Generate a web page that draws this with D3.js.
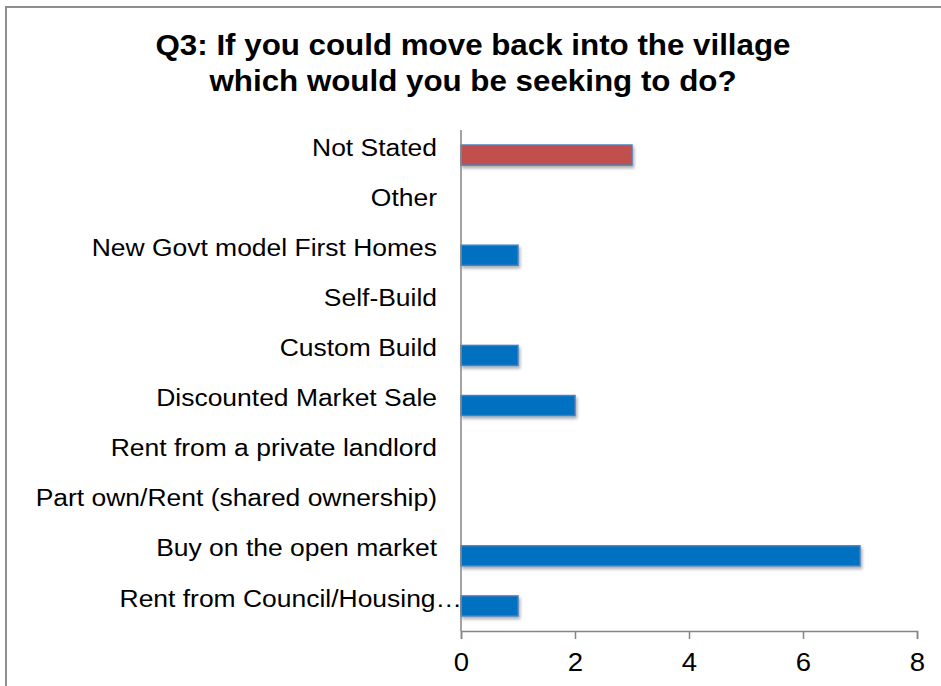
<!DOCTYPE html>
<html>
<head>
<meta charset="utf-8">
<script src="https://cdn.jsdelivr.net/npm/d3@7"></script>
<style>
  html, body { margin: 0; padding: 0; background: #ffffff; }
  svg { display: block; }
  text { font-family: "Liberation Sans", Arial, sans-serif; fill: #000; }
</style>
</head>
<body>
<svg id="chart" width="941" height="686"></svg>
<script>
// Survey answers, listed top to bottom as they appear on the chart
const categories = [
  "Not Stated",
  "Other",
  "New Govt model First Homes",
  "Self-Build",
  "Custom Build",
  "Discounted Market Sale",
  "Rent from a private landlord",
  "Part own/Rent (shared ownership)",
  "Buy on the open market",
  "Rent from Council/Housing…"
];
// Number of respondents choosing each option
const responses = [3, 0, 1, 0, 1, 2, 0, 0, 7, 1];
// Horizontal axis tick values
const xTicks = [0, 2, 4, 6, 8];
const titleLines = [
  "Q3: If you could move back into the village",
  "which would you be seeking to do?"
];

const W = 941, H = 686;
const plot = { left: 461, right: 917, top: 130, bottom: 631 };
const stretch = 1.08;   // horizontal text stretch
const blue = "#0070C0", red = "#C0504D", edge = "#4A7EBB", axisGrey = "#868686";

const svg = d3.select("#chart");

// soft drop shadow for the bars
const defs = svg.append("defs");
const f = defs.append("filter").attr("id", "barShadow")
  .attr("x", "-5%").attr("y", "-30%").attr("width", "115%").attr("height", "180%");
f.append("feDropShadow").attr("dx", 1.5).attr("dy", 2.5)
  .attr("stdDeviation", 1.6).attr("flood-color", "#000").attr("flood-opacity", 0.32);

// outer frame
svg.append("rect")
  .attr("x", 6).attr("y", 7).attr("width", W + 20).attr("height", H + 20)
  .attr("fill", "none").attr("stroke", "#8e8e8e").attr("stroke-width", 2);

// title
const title = svg.append("g");
titleLines.forEach((t, i) => {
  title.append("text")
    .attr("transform", `translate(473,${55 + i * 36}) scale(${stretch},1)`)
    .attr("text-anchor", "middle")
    .attr("font-size", 29)
    .attr("font-weight", "bold")
    .text(t);
});

const data = categories.map((c, i) => ({ cat: c, value: responses[i] }));

const x = d3.scaleLinear().domain([0, 8]).range([plot.left, plot.right]);
const y = d3.scaleBand().domain(categories)
  .range([plot.top, plot.bottom]).paddingInner(0.6).paddingOuter(0.3);

// bars (options nobody picked draw nothing)
svg.append("g").selectAll("rect")
  .data(data.filter(d => d.value > 0))
  .join("rect")
  .attr("x", x(0))
  .attr("y", d => y(d.cat))
  .attr("width", d => x(d.value) - x(0))
  .attr("height", y.bandwidth())
  .attr("fill", d => d.cat === "Not Stated" ? red : blue)
  .attr("stroke", edge)
  .attr("stroke-width", 1.5)
  .attr("filter", "url(#barShadow)");

// category labels, sitting a little above each bar's centre line
svg.append("g").selectAll("text")
  .data(categories)
  .join("text")
  .attr("transform", d => {
    const endX = d.endsWith("…") ? plot.left + 1 : plot.left - 24;
    const cy = y(d) + y.bandwidth() / 2 - 8;
    return `translate(${endX},${cy}) scale(${stretch},1)`;
  })
  .attr("text-anchor", "end")
  .attr("dy", "0.35em")
  .attr("font-size", 24.5)
  .text(d => d);

// vertical axis line
svg.append("line")
  .attr("x1", plot.left).attr("x2", plot.left)
  .attr("y1", plot.top).attr("y2", plot.bottom)
  .attr("stroke", axisGrey).attr("stroke-width", 1.5);

// value axis
const xAxis = svg.append("g")
  .attr("transform", `translate(0,${plot.bottom})`)
  .call(d3.axisBottom(x).tickValues(xTicks).tickFormat(d3.format("d"))
    .tickSize(8).tickSizeOuter(8).tickPadding(14));
xAxis.select(".domain").attr("stroke", axisGrey).attr("stroke-width", 1.5);
xAxis.selectAll(".tick line").attr("stroke", axisGrey).attr("stroke-width", 1.5);
xAxis.selectAll(".tick text")
  .attr("font-size", 25.5)
  .attr("font-family", "Liberation Sans, Arial, sans-serif")
  .attr("fill", "#000")
  .attr("transform", `scale(${stretch},1)`);
</script>
</body>
</html>
